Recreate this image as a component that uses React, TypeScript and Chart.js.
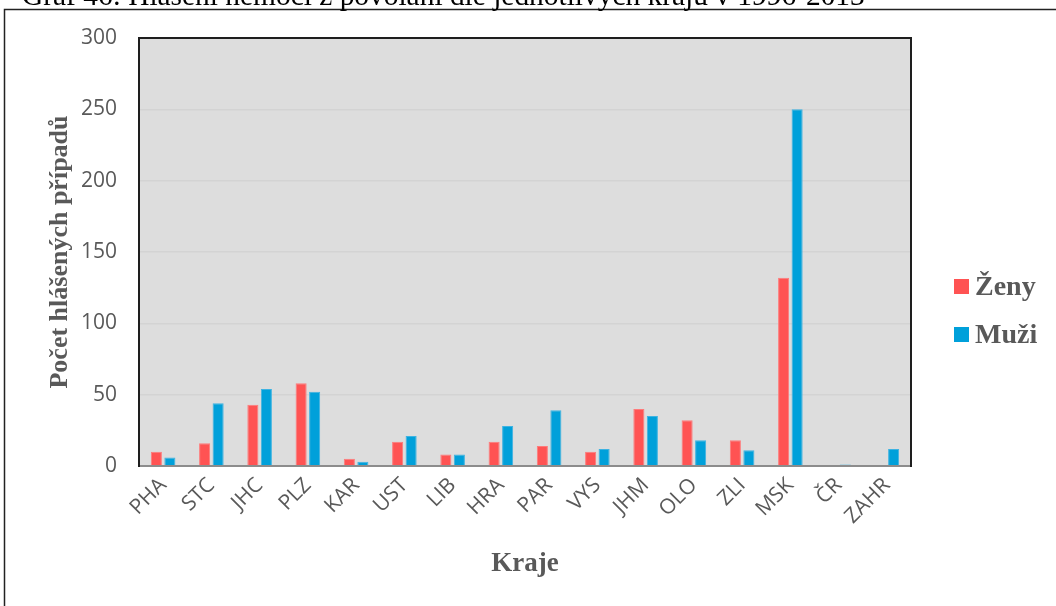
import React, { useEffect, useRef } from 'react';
import { Chart, registerables } from 'chart.js';

Chart.register(...registerables);

const categories = ['PHA', 'STC', 'JHC', 'PLZ', 'KAR', 'UST', 'LIB', 'HRA', 'PAR', 'VYS', 'JHM', 'OLO', 'ZLI', 'MSK', 'ČR', 'ZAHR'];
const zeny = [10, 16, 43, 58, 5, 17, 8, 17, 14, 10, 40, 32, 18, 132, 0, 0];
const muzi = [6, 44, 54, 52, 3, 21, 8, 28, 39, 12, 35, 18, 11, 250, 1, 12];
const seriesLabels = ['Ženy', 'Muži'];
const seriesColors = ['#FF5353', '#00A0DA'];
const seriesBorders = ['#FF7A7A', '#3DB3E2'];
const yMin = 0;
const yMax = 300;
const yStep = 50;
const chartTitle = 'Graf 46: Hlášení nemocí z povolání dle jednotlivých krajů v 1996-2013';
const xTitle = 'Kraje';
const yTitle = 'Počet hlášených případů';

const W = 1056;
const H = 606;
const TEXT = '#595959';
const SERIF = '"Liberation Serif", "Times New Roman", serif';
const SANS = '"Open Sans", "Noto Sans", sans-serif';

const framePlugin = {
  id: 'frame',
  beforeDraw(chart: any) {
    const { ctx, chartArea } = chart;
    ctx.save();
    ctx.fillStyle = '#ffffff';
    ctx.fillRect(0, 0, W, H);
    // outer border
    ctx.strokeStyle = '#222';
    ctx.lineWidth = 1.5;
    ctx.strokeRect(4.5, 9.5, W + 20, H + 20);
    // partially cut title
    ctx.fillStyle = '#000';
    ctx.font = `20px ${SERIF}`;
    const w = ctx.measureText(chartTitle).width;
    const size = (20 * 843) / w;
    ctx.font = `${size}px ${SERIF}`;
    ctx.textBaseline = 'alphabetic';
    ctx.textAlign = 'left';
    ctx.fillText(chartTitle, 22, 5);
    // plot background
    ctx.fillStyle = '#DDDDDD';
    ctx.fillRect(chartArea.left, chartArea.top, chartArea.right - chartArea.left, chartArea.bottom - chartArea.top);
    ctx.restore();
  },
  afterDraw(chart: any) {
    const { ctx, chartArea } = chart;
    const { left, right, top, bottom } = chartArea;
    ctx.save();
    ctx.strokeStyle = '#8C8C8C';
    ctx.lineWidth = 2;
    ctx.beginPath();
    ctx.moveTo(left, bottom);
    ctx.lineTo(right, bottom);
    ctx.stroke();
    ctx.strokeStyle = '#1E1E1E';
    ctx.lineWidth = 2;
    ctx.beginPath();
    ctx.moveTo(left, bottom + 1);
    ctx.lineTo(left, top);
    ctx.lineTo(right, top);
    ctx.lineTo(right, bottom + 1);
    ctx.stroke();
    // legend
    const datasets = chart.data.datasets;
    ctx.font = `bold 28px ${SERIF}`;
    ctx.textBaseline = 'middle';
    ctx.textAlign = 'left';
    datasets.forEach((ds: any, i: number) => {
      const cy = 286.5 + i * 48;
      ctx.fillStyle = ds.backgroundColor;
      ctx.fillRect(954, cy - 7.5, 15, 15);
      ctx.fillStyle = TEXT;
      ctx.fillText(ds.label, 975, cy + 1);
    });
    ctx.restore();
  },
};

export default function App() {
  const ref = useRef<HTMLCanvasElement | null>(null);
  useEffect(() => {
    if (!ref.current) return;
    const chart = new Chart(ref.current, {
      type: 'bar',
      data: {
        labels: categories,
        datasets: [
          {
            label: seriesLabels[0],
            data: zeny,
            backgroundColor: seriesColors[0],
            borderColor: seriesBorders[0],
            borderWidth: 1,
            categoryPercentage: 0.56,
            barPercentage: 0.82,
          },
          {
            label: seriesLabels[1],
            data: muzi,
            backgroundColor: seriesColors[1],
            borderColor: seriesBorders[1],
            borderWidth: 1,
            categoryPercentage: 0.56,
            barPercentage: 0.82,
          },
        ],
      },
      options: {
        responsive: false,
        animation: false,
        devicePixelRatio: 1,
        layout: { padding: { left: 0, top: 38, right: W - 911, bottom: 0 } },
        plugins: {
          legend: { display: false },
          tooltip: { enabled: false },
          title: { display: false },
        },
        scales: {
          x: {
            grid: { display: false, drawTicks: false },
            border: { display: false },
            ticks: {
              color: TEXT,
              font: { family: SANS, size: 21 },
              maxRotation: 45,
              minRotation: 45,
              padding: 7,
              autoSkip: false,
            },
            title: {
              display: true,
              text: xTitle,
              color: TEXT,
              font: { family: SERIF, size: 27, weight: 'bold' },
              padding: { top: 0, bottom: 26 },
            },
            afterFit(scale: any) {
              scale.height = H - 466;
            },
          },
          y: {
            min: yMin,
            max: yMax,
            grid: { color: '#D3D3D3', lineWidth: 1.5, drawTicks: false },
            border: { display: false },
            ticks: {
              stepSize: yStep,
              color: TEXT,
              font: { family: SANS, size: 21 },
              padding: 22,
            },
            title: {
              display: true,
              text: yTitle,
              color: TEXT,
              font: { family: SERIF, size: 26, weight: 'bold' },
              padding: { top: 45, bottom: 0 },
            },
            afterFit(scale: any) {
              scale.width = 139;
            },
          },
        },
      },
      plugins: [framePlugin],
    } as any);
    return () => chart.destroy();
  }, []);
  return (
    <div style={{ position: 'fixed', left: 0, top: 0, width: W, height: H, background: '#fff' }}>
      <canvas ref={ref} width={W} height={H} style={{ display: 'block', width: W, height: H }} />
    </div>
  );
}
